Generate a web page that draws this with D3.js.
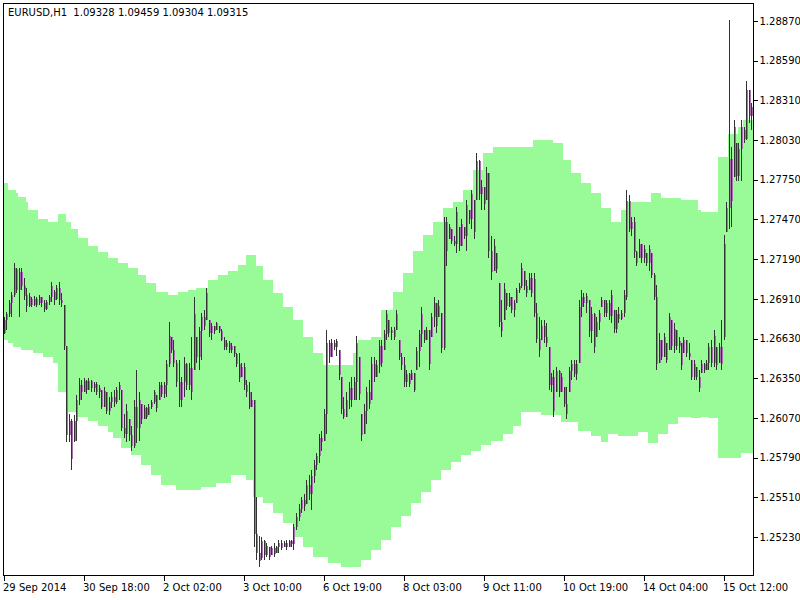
<!DOCTYPE html>
<html>
<head>
<meta charset="utf-8">
<script src="https://cdn.jsdelivr.net/npm/d3@7"></script>
<style>
  body { margin: 0; background: #fff; }
  svg { display: block; }
  text { font-family: "DejaVu Sans", sans-serif; font-size: 10px; fill: #000; }
</style>
</head>
<body>
<svg id="chart" width="800" height="600"></svg>
<script>
/* Chart data (prices in units of 0.0001) */
const TITLE = 'EURUSD,H1  1.09328 1.09459 1.09304 1.09315';
const PRICE_TICKS = [1.25230, 1.25510, 1.25790, 1.26070, 1.26350, 1.26630, 1.26910,
                     1.27190, 1.27470, 1.27750, 1.28030, 1.28310, 1.28590, 1.28870];
const TIME_LABELS = ['29 Sep 2014', '30 Sep 18:00', '2 Oct 02:00', '3 Oct 10:00', '6 Oct 19:00',
                     '8 Oct 03:00', '9 Oct 11:00', '10 Oct 19:00', '14 Oct 04:00', '15 Oct 12:00'];
const TIME_TICK_BARS = [0, 32, 64, 96, 128, 160, 192, 224, 256, 288];

const HIGH = [
12678,12682,12690,12696,12716,12713,12713,12713,12706,12699,
12695,12692,12693,12692,12694,12692,12690,12690,12694,12703,
12697,12701,12703,12695,12687,12658,12610,12606,12609,12623,
12635,12634,12635,12634,12635,12634,12632,12632,12630,12627,
12629,12625,12622,12625,12627,12629,12632,12627,12610,12617,
12606,12601,12620,12641,12625,12617,12616,12615,12617,12620,
12627,12623,12632,12632,12632,12648,12675,12664,12662,12648,
12648,12636,12650,12646,12646,12664,12692,12664,12671,12681,
12683,12699,12676,12674,12672,12675,12672,12670,12664,12662,
12661,12660,12658,12653,12653,12646,12646,12634,12632,12625,
12620,12551,12524,12523,12521,12519,12516,12517,12519,12517,
12521,12521,12520,12521,12521,12521,12532,12540,12546,12551,
12553,12563,12567,12570,12577,12582,12596,12598,12613,12669,
12662,12663,12662,12663,12655,12636,12622,12625,12632,12636,
12636,12665,12650,12610,12617,12629,12634,12650,12650,12648,
12662,12662,12669,12683,12676,12671,12671,12683,12662,12653,
12650,12641,12639,12641,12639,12657,12669,12685,12669,12671,
12669,12681,12692,12688,12690,12681,12749,12749,12744,12740,
12735,12756,12742,12747,12742,12761,12754,12768,12761,12794,
12789,12775,12770,12784,12780,12735,12733,12723,12702,12690,
12702,12695,12695,12692,12690,12699,12702,12716,12711,12704,
12709,12709,12709,12688,12678,12676,12676,12674,12657,12639,
12641,12643,12641,12639,12629,12629,12643,12648,12648,12648,
12690,12697,12695,12695,12690,12685,12681,12678,12683,12692,
12690,12690,12690,12697,12683,12683,12685,12683,12697,12768,
12764,12749,12749,12725,12733,12730,12729,12723,12729,12723,
12709,12701,12667,12662,12667,12660,12681,12676,12674,12669,
12664,12660,12664,12662,12660,12648,12648,12643,12641,12648,
12646,12648,12660,12662,12669,12657,12660,12676,12736,12759,
12888,12798,12817,12801,12801,12817,12812,12845,12838,12829];

const LOW = [
12666,12669,12678,12678,12692,12695,12678,12697,12690,12682,
12685,12685,12686,12685,12687,12685,12682,12683,12687,12689,
12687,12690,12687,12685,12655,12590,12590,12570,12590,12591,
12616,12620,12625,12624,12627,12625,12625,12623,12621,12613,
12615,12610,12609,12614,12615,12617,12620,12598,12593,12590,
12591,12584,12586,12589,12591,12603,12606,12606,12609,12613,
12617,12611,12620,12622,12621,12622,12643,12653,12643,12629,
12615,12615,12622,12627,12627,12620,12641,12646,12641,12648,
12669,12676,12664,12662,12666,12669,12667,12661,12655,12655,
12653,12653,12650,12643,12632,12636,12627,12622,12613,12615,
12516,12507,12502,12507,12507,12509,12507,12510,12509,12512,
12512,12514,12516,12514,12516,12516,12514,12528,12534,12540,
12541,12546,12549,12542,12561,12570,12575,12584,12591,12596,
12646,12650,12655,12651,12634,12610,12606,12608,12613,12615,
12620,12620,12620,12591,12596,12603,12613,12620,12632,12636,
12639,12643,12655,12662,12664,12662,12662,12669,12648,12641,
12629,12629,12629,12634,12625,12641,12643,12657,12660,12662,
12641,12664,12671,12667,12678,12653,12655,12714,12733,12730,
12728,12723,12725,12728,12733,12725,12744,12740,12733,12761,
12761,12754,12754,12761,12720,12704,12711,12709,12671,12664,
12676,12683,12685,12681,12678,12688,12695,12699,12697,12692,
12697,12692,12678,12660,12650,12662,12660,12657,12627,12625,
12608,12625,12622,12625,12615,12606,12625,12634,12636,12634,
12646,12678,12685,12681,12664,12660,12653,12664,12669,12685,
12678,12678,12676,12674,12667,12667,12674,12676,12678,12690,
12738,12735,12720,12714,12720,12716,12716,12714,12711,12706,
12690,12641,12646,12648,12650,12646,12655,12655,12653,12655,
12653,12641,12653,12650,12648,12634,12634,12634,12625,12639,
12639,12641,12641,12643,12643,12641,12646,12641,12662,12738,
12740,12742,12777,12774,12774,12774,12801,12803,12815,12810];

const OPEN = [
12667,12676,12680,12688,12694,12712,12697,12710,12700,12694,
12686,12691,12687,12691,12688,12692,12688,12684,12689,12692,
12696,12691,12699,12690,12687,12658,12595,12605,12591,12605,
12620,12630,12625,12633,12627,12633,12628,12631,12625,12627,
12615,12625,12612,12618,12622,12618,12627,12627,12600,12596,
12606,12595,12587,12615,12600,12617,12606,12614,12609,12615,
12618,12623,12620,12630,12624,12630,12645,12664,12655,12646,
12632,12620,12632,12645,12630,12642,12641,12664,12650,12668,
12678,12676,12676,12667,12672,12669,12672,12668,12662,12657,
12660,12655,12658,12652,12645,12636,12643,12630,12625,12615,
12620,12525,12512,12508,12520,12510,12516,12510,12515,12512,
12516,12519,12516,12519,12516,12520,12518,12530,12537,12543,
12549,12546,12560,12553,12566,12574,12580,12593,12591,12610,
12660,12650,12660,12657,12655,12636,12613,12608,12620,12628,
12620,12632,12650,12610,12596,12612,12625,12620,12645,12636,
12644,12658,12655,12666,12676,12667,12669,12669,12662,12650,
12644,12632,12638,12634,12639,12641,12654,12666,12669,12662,
12669,12664,12678,12688,12678,12681,12656,12745,12733,12740,
12732,12730,12742,12728,12742,12735,12754,12747,12761,12761,
12788,12765,12770,12761,12780,12725,12711,12723,12702,12675,
12676,12695,12686,12692,12683,12688,12697,12700,12711,12700,
12697,12706,12705,12681,12663,12662,12672,12664,12657,12630,
12636,12625,12640,12625,12629,12617,12625,12640,12645,12638,
12646,12685,12692,12688,12690,12668,12680,12664,12675,12685,
12690,12681,12688,12679,12683,12670,12680,12677,12681,12692,
12760,12740,12745,12724,12720,12730,12720,12723,12716,12723,
12708,12692,12646,12662,12650,12660,12655,12676,12658,12669,
12658,12660,12653,12662,12653,12648,12636,12643,12636,12639,
12645,12641,12646,12657,12646,12657,12646,12657,12664,12738,
12755,12790,12777,12801,12778,12797,12810,12804,12838,12820];

const CLOSE = [
12676,12680,12688,12694,12713,12697,12710,12700,12693,12686,
12693,12687,12691,12687,12692,12688,12684,12689,12692,12700,
12690,12699,12690,12688,12658,12595,12605,12578,12605,12620,
12630,12625,12633,12627,12633,12628,12631,12625,12628,12615,
12626,12612,12618,12622,12618,12627,12630,12600,12596,12612,
12595,12587,12615,12600,12620,12606,12614,12608,12615,12618,
12625,12614,12630,12624,12630,12645,12665,12655,12646,12632,
12620,12632,12645,12630,12642,12625,12680,12650,12668,12678,
12672,12695,12667,12672,12668,12674,12668,12662,12657,12660,
12655,12658,12652,12645,12635,12643,12630,12625,12615,12620,
12525,12512,12506,12520,12510,12517,12509,12515,12511,12516,
12519,12515,12519,12516,12520,12518,12530,12537,12543,12549,
12545,12560,12553,12566,12574,12580,12593,12590,12610,12660,
12650,12660,12657,12661,12637,12613,12608,12620,12628,12620,
12632,12660,12624,12595,12612,12625,12617,12645,12636,12644,
12658,12646,12666,12680,12667,12669,12664,12680,12650,12644,
12632,12638,12631,12639,12627,12654,12666,12680,12662,12669,
12645,12678,12688,12672,12686,12656,12745,12725,12742,12732,
12730,12752,12728,12744,12735,12757,12747,12765,12738,12788,
12765,12770,12758,12780,12725,12710,12728,12712,12675,12668,
12698,12686,12692,12683,12688,12697,12700,12713,12700,12695,
12706,12695,12681,12663,12655,12672,12664,12660,12630,12636,
12612,12640,12625,12636,12617,12610,12640,12645,12638,12645,
12685,12692,12688,12693,12668,12680,12657,12675,12681,12690,
12681,12688,12679,12694,12670,12680,12677,12681,12694,12760,
12740,12745,12724,12716,12730,12720,12726,12716,12726,12708,
12692,12645,12662,12650,12664,12648,12678,12658,12670,12658,
12661,12644,12662,12653,12650,12636,12645,12636,12628,12645,
12641,12646,12657,12646,12665,12644,12657,12645,12730,12755,
12790,12760,12812,12778,12797,12812,12804,12838,12820,12826];

/* Channel band: upper and lower edge per bar */
const BAND_UPPER = [
12773,12773,12768,12768,12768,12766,12763,12763,12763,12759,
12754,12754,12754,12754,12747,12747,12747,12747,12745,12745,
12745,12745,12751,12751,12751,12745,12745,12740,12740,12740,
12734,12734,12734,12734,12728,12728,12728,12728,12724,12724,
12724,12724,12720,12720,12720,12720,12716,12716,12716,12716,
12713,12713,12713,12713,12708,12708,12708,12702,12702,12702,
12702,12696,12696,12696,12696,12696,12694,12694,12694,12694,
12696,12696,12696,12696,12697,12697,12697,12699,12699,12699,
12699,12699,12704,12704,12704,12704,12708,12708,12708,12708,
12711,12711,12711,12711,12715,12715,12715,12722,12722,12722,
12722,12714,12714,12714,12704,12704,12704,12704,12695,12695,
12695,12695,12685,12685,12685,12685,12676,12676,12676,12676,
12664,12664,12664,12664,12653,12653,12653,12653,12644,12644,
12644,12644,12644,12644,12644,12644,12644,12644,12644,12644,
12653,12653,12662,12662,12662,12662,12662,12664,12664,12664,
12664,12683,12683,12683,12683,12683,12696,12696,12696,12696,
12709,12709,12709,12709,12725,12725,12725,12725,12736,12736,
12736,12736,12745,12745,12745,12745,12755,12755,12755,12755,
12759,12759,12759,12759,12768,12768,12768,12768,12782,12782,
12782,12782,12794,12794,12794,12794,12798,12798,12798,12798,
12798,12798,12798,12798,12798,12798,12798,12798,12798,12798,
12798,12798,12803,12803,12803,12803,12803,12803,12803,12803,
12801,12801,12801,12801,12789,12789,12789,12780,12780,12780,
12780,12773,12773,12773,12773,12766,12766,12766,12766,12755,
12755,12755,12755,12745,12745,12745,12745,12754,12754,12759,
12759,12759,12759,12759,12759,12759,12759,12759,12759,12766,
12766,12766,12766,12762,12762,12762,12762,12762,12762,12762,
12762,12761,12761,12761,12761,12761,12761,12761,12754,12752,
12752,12752,12752,12752,12752,12752,12791,12791,12791,12791,
12807,12807,12807,12807,12812,12812,12817,12817,12817,12817];

const BAND_LOWER = [
12662,12662,12660,12660,12657,12657,12657,12655,12655,12655,
12655,12655,12653,12653,12653,12653,12650,12650,12650,12650,
12646,12646,12625,12625,12625,12611,12611,12611,12611,12611,
12608,12608,12608,12608,12605,12605,12605,12605,12601,12601,
12601,12601,12597,12597,12593,12593,12593,12586,12586,12586,
12586,12581,12581,12581,12581,12574,12574,12574,12574,12567,
12567,12567,12567,12560,12560,12560,12560,12560,12560,12556,
12556,12556,12556,12556,12556,12556,12556,12556,12556,12558,
12558,12558,12558,12558,12558,12561,12561,12561,12561,12561,
12561,12567,12567,12567,12567,12567,12567,12563,12563,12563,
12551,12551,12551,12551,12547,12547,12547,12547,12540,12540,
12540,12540,12533,12533,12533,12533,12523,12523,12523,12523,
12516,12516,12516,12516,12509,12509,12509,12509,12509,12509,
12505,12505,12505,12505,12505,12502,12502,12502,12502,12502,
12502,12502,12502,12507,12507,12507,12507,12514,12514,12514,
12514,12521,12521,12521,12521,12530,12530,12530,12530,12538,
12538,12538,12538,12547,12547,12547,12547,12555,12555,12555,
12555,12563,12563,12563,12563,12570,12570,12570,12570,12576,
12576,12576,12576,12581,12581,12581,12581,12584,12584,12584,
12584,12588,12588,12588,12588,12591,12591,12591,12591,12591,
12596,12596,12596,12596,12601,12601,12601,12611,12611,12611,
12611,12611,12611,12611,12611,12609,12609,12609,12609,12609,
12609,12609,12609,12604,12604,12604,12604,12604,12604,12604,
12598,12598,12598,12598,12598,12594,12594,12594,12594,12590,
12590,12590,12596,12596,12596,12596,12594,12594,12594,12594,
12594,12594,12594,12594,12597,12597,12597,12597,12589,12589,
12589,12589,12596,12596,12596,12596,12603,12603,12603,12603,
12608,12608,12608,12608,12608,12607,12607,12607,12607,12608,
12608,12608,12607,12607,12607,12607,12579,12579,12579,12579,
12579,12579,12579,12579,12579,12582,12582,12582,12582,12582];

/* Layout */
const PLOT_LEFT = 3;
const PLOT_RIGHT = 753;
const PLOT_TOP = 3;
const PLOT_BOTTOM = 575;
const BAND_COLOR = '#98fb98';
const WICK_COLOR = '#333333';
const BODY_COLOR = '#a86fae';

const svg = d3.select('#chart');

const bars = HIGH.map((h, i) => ({
    i: i,
    o: OPEN[i] / 1e4,
    h: h / 1e4,
    l: LOW[i] / 1e4,
    c: CLOSE[i] / 1e4
}));
const band = BAND_UPPER.map((u, i) => ({ i: i, u: u / 1e4, l: BAND_LOWER[i] / 1e4 }));
// close the last step at the right edge
band.push({ i: band.length, u: band[band.length - 1].u, l: band[band.length - 1].l });

const x = d3.scaleLinear().domain([0, bars.length]).range([PLOT_LEFT, PLOT_RIGHT]);
const y = d3.scaleLinear().domain([1.24962, 1.28997]).range([PLOT_BOTTOM, PLOT_TOP]);

svg.append('defs').append('clipPath').attr('id', 'plot-clip')
    .append('rect')
    .attr('x', PLOT_LEFT).attr('y', PLOT_TOP)
    .attr('width', PLOT_RIGHT - PLOT_LEFT).attr('height', PLOT_BOTTOM - PLOT_TOP);

const plot = svg.append('g').attr('clip-path', 'url(#plot-clip)');

// green channel
const area = d3.area()
    .curve(d3.curveStepAfter)
    .x(d => x(d.i))
    .y0(d => y(d.l))
    .y1(d => y(d.u));

plot.append('path')
    .datum(band)
    .attr('d', area)
    .attr('fill', BAND_COLOR)
    .attr('shape-rendering', 'crispEdges');

// price bars
const barG = plot.append('g').attr('shape-rendering', 'crispEdges');

barG.selectAll('.wick').data(bars).enter().append('rect').classed('wick', true)
    .attr('x', d => Math.floor(x(d.i)) + 1)
    .attr('y', d => Math.round(y(d.h)))
    .attr('width', 1)
    .attr('height', d => Math.max(1, Math.round(y(d.l)) - Math.round(y(d.h))))
    .attr('fill', WICK_COLOR);

barG.selectAll('.body').data(bars).enter().append('rect').classed('body', true)
    .attr('x', d => Math.floor(x(d.i)) + 2)
    .attr('y', d => Math.round(y(Math.max(d.o, d.c))))
    .attr('width', 1)
    .attr('height', d => Math.max(1, Math.round(y(Math.min(d.o, d.c))) - Math.round(y(Math.max(d.o, d.c)))))
    .attr('fill', BODY_COLOR);

// frame
svg.append('rect')
    .attr('x', PLOT_LEFT + 0.5).attr('y', PLOT_TOP + 0.5)
    .attr('width', PLOT_RIGHT - PLOT_LEFT).attr('height', PLOT_BOTTOM - PLOT_TOP)
    .attr('fill', 'none').attr('stroke', '#000').attr('stroke-width', 1);

// price axis on the right
const yAxis = d3.axisRight(y)
    .tickValues(PRICE_TICKS)
    .tickFormat(d3.format('.5f'))
    .tickSize(4)
    .tickPadding(2);

const yG = svg.append('g')
    .attr('transform', `translate(${PLOT_RIGHT + 0.5},0)`)
    .call(yAxis);
yG.select('.domain').remove();
yG.selectAll('line').attr('stroke', '#000').attr('shape-rendering', 'crispEdges');
yG.selectAll('text').attr('font-family', '"DejaVu Sans", sans-serif').attr('font-size', 10).attr('fill', '#000');

// time axis
const xAxis = d3.axisBottom(x)
    .tickValues(TIME_TICK_BARS)
    .tickFormat((d, i) => TIME_LABELS[i])
    .tickSize(5)
    .tickPadding(3);

const xG = svg.append('g')
    .attr('transform', `translate(0.5,${PLOT_BOTTOM + 0.5})`)
    .call(xAxis);
xG.select('.domain').remove();
xG.selectAll('line').attr('stroke', '#000').attr('shape-rendering', 'crispEdges');
xG.selectAll('text')
    .attr('text-anchor', 'start')
    .attr('dx', -1)
    .attr('font-family', '"DejaVu Sans", sans-serif').attr('font-size', 10).attr('fill', '#000');

// symbol line in the top left corner
svg.append('text')
    .attr('x', 8).attr('y', 16)
    .attr('font-size', 10.4)
    .style('white-space', 'pre')
    .text(TITLE);
</script>
</body>
</html>
